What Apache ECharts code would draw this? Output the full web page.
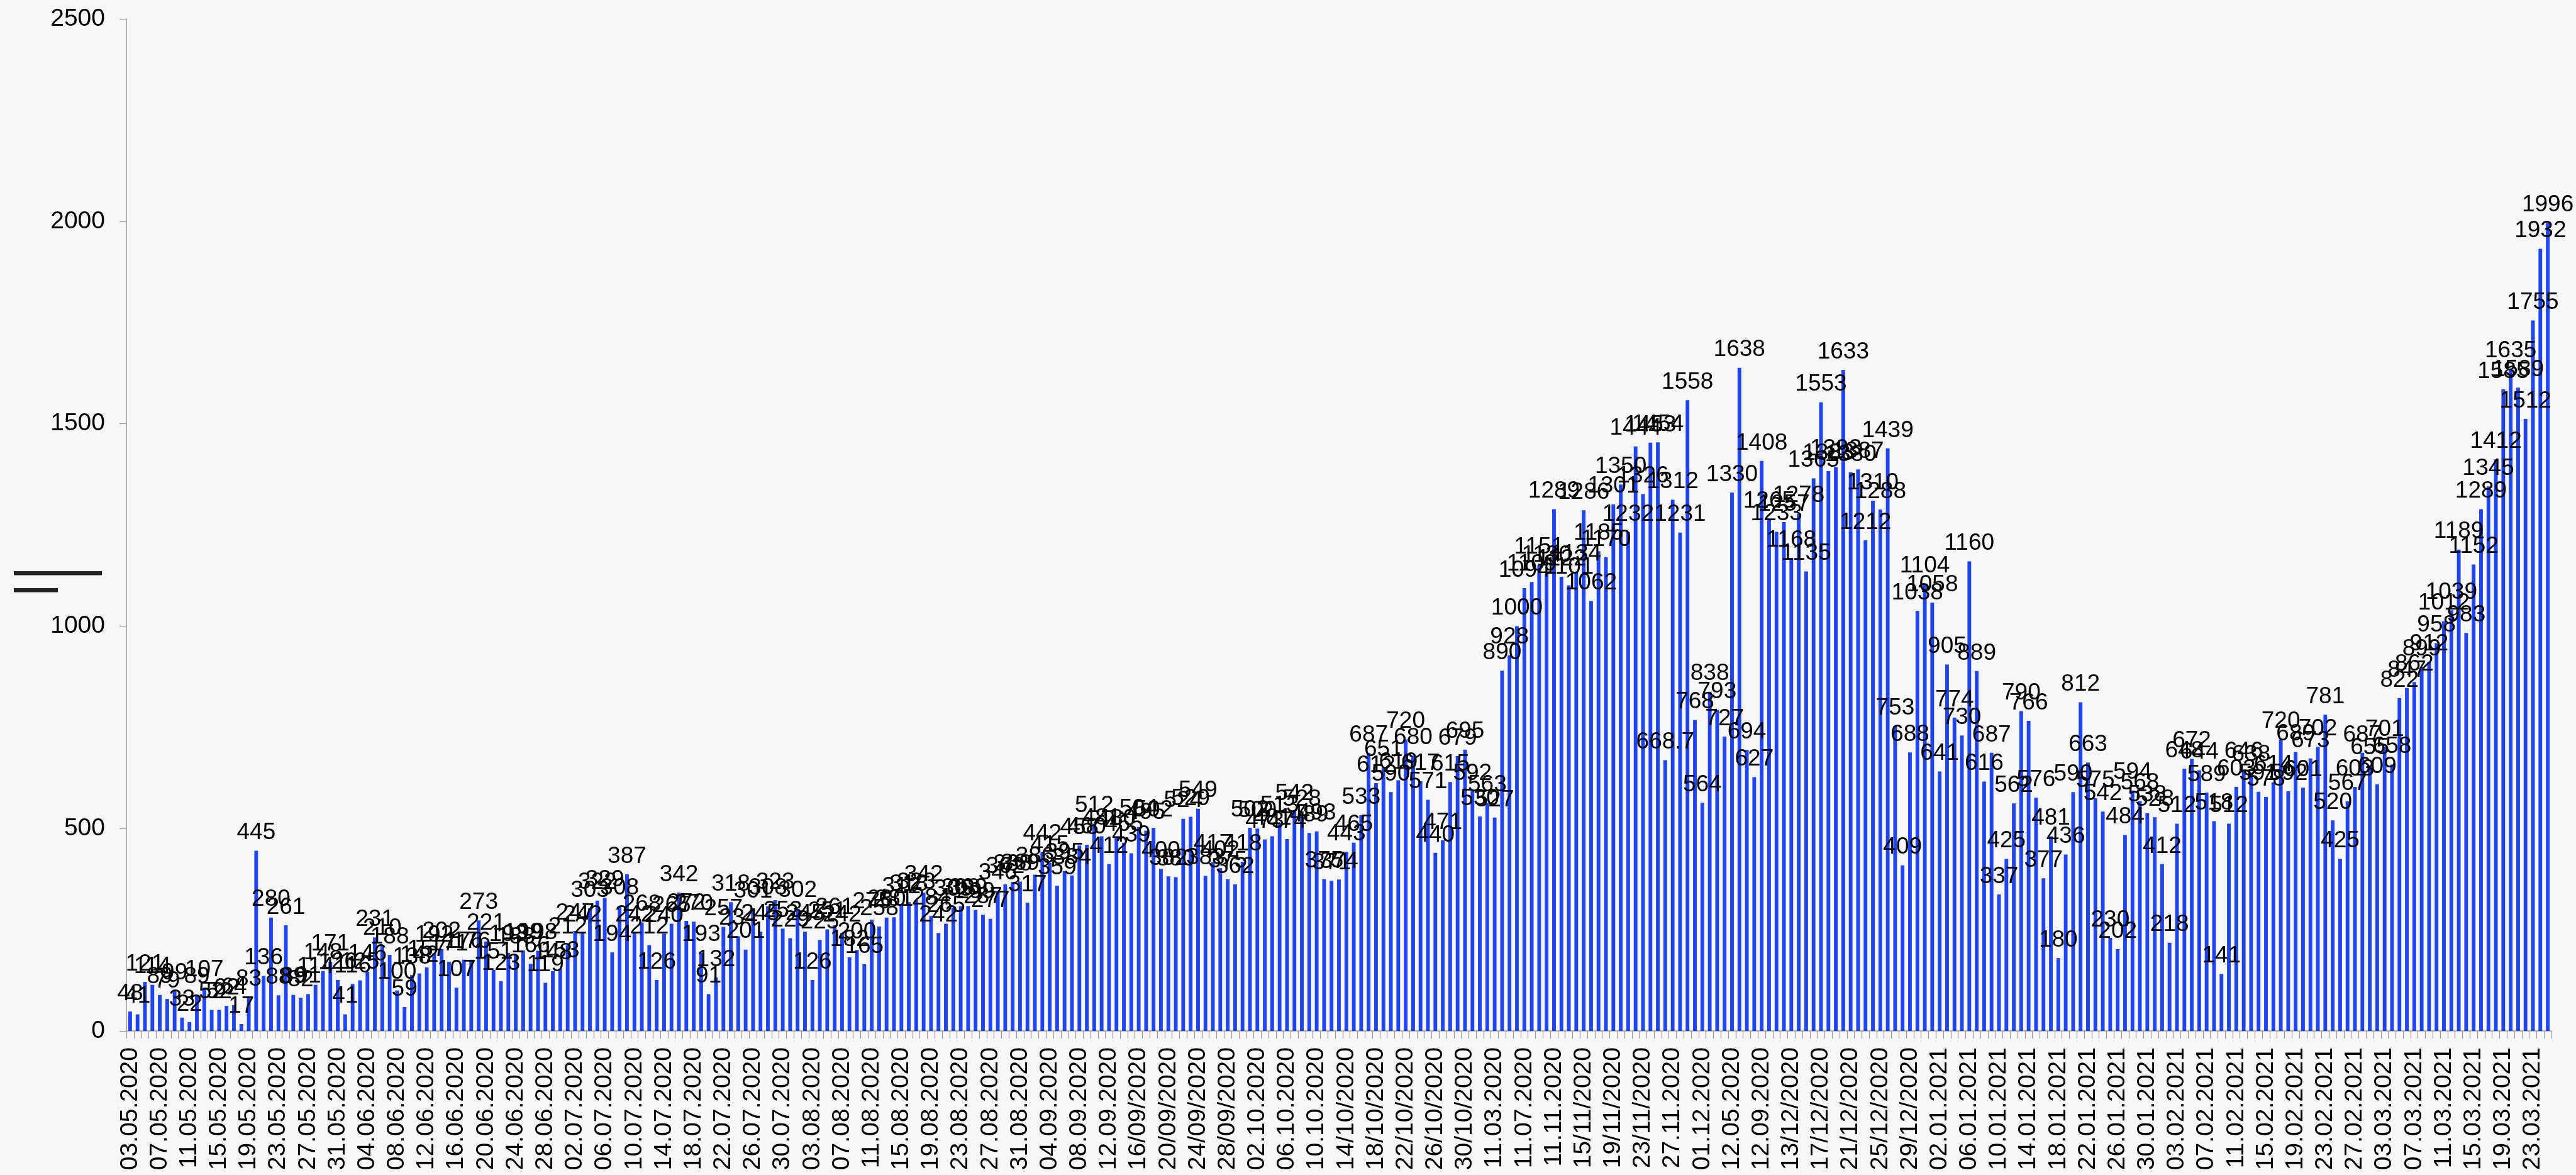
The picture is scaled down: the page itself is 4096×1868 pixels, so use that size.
<!DOCTYPE html>
<html>
<head>
<meta charset="utf-8">
<title>Daily values</title>
<script src="https://cdn.jsdelivr.net/npm/echarts@6/dist/echarts.min.js"></script>
<style>
  html, body { margin: 0; padding: 0; background: #f7f7f7; }
  #chart { width: 4096px; height: 1868px; }
</style>
</head>
<body>
<div id="chart"></div>
<script>
// tick labels, one every 4 days (as written in the source sheet)
var tickLabels = ['03.05.2020','07.05.2020','11.05.2020','15.05.2020','19.05.2020','23.05.2020','27.05.2020','31.05.2020','04.06.2020','08.06.2020',
  '12.06.2020','16.06.2020','20.06.2020','24.06.2020','28.06.2020','02.07.2020','06.07.2020','10.07.2020','14.07.2020','18.07.2020',
  '22.07.2020','26.07.2020','30.07.2020','03.08.2020','07.08.2020','11.08.2020','15.08.2020','19.08.2020','23.08.2020','27.08.2020',
  '31.08.2020','04.09.2020','08.09.2020','12.09.2020','16/09/2020','20/09/2020','24/09/2020','28/09/2020','02.10.2020','06.10.2020',
  '10.10.2020','14/10/2020','18/10/2020','22/10/2020','26/10/2020','30/10/2020','11.03.2020','11.07.2020','11.11.2020','15/11/2020',
  '19/11/2020','23/11/2020','27.11.2020','01.12.2020','12.05.2020','12.09.2020','13/12/2020','17/12/2020','21/12/2020','25/12/2020',
  '29/12/2020','02.01.2021','06.01.2021','10.01.2021','14.01.2021','18.01.2021','22.01.2021','26.01.2021','30.01.2021','03.02.2021',
  '07.02.2021','11.02.2021','15.02.2021','19.02.2021','23.02.2021','27.02.2021','03.03.2021','07.03.2021','11.03.2021','15.03.2021',
  '19.03.2021','23.03.2021'];

// daily values, 03.05.2020 .. 25.03.2021
var valuesMayJun = [48, 41, 121, 114, 89, 79, 99, 33, 22, 89, 107, 52, 52, 62, 64, 17, 83, 445, 136, 280,
  88, 261, 89, 82, 91, 114, 148, 171, 126, 41, 116, 125, 146, 231, 210, 188, 100, 59, 138, 142,
  157, 192, 202, 171, 107, 176, 176, 273];
var valuesJunAug = [221, 151, 123, 193, 188, 199, 166, 198, 119, 148, 153, 212, 247, 242, 303, 322, 329, 194, 308, 387,
  242, 268, 212, 126, 240, 265, 342, 272, 270, 193, 91, 132, 257, 318, 234, 201, 301, 245, 308, 323,
  253, 229, 302, 245, 126, 225, 251, 261];
var valuesAugSep = [242, 182, 200, 165, 275, 258, 280, 281, 312, 318, 323, 342, 284, 242, 265, 305, 308, 309, 299, 287,
  277, 346, 362, 368, 369, 317, 386, 442, 415, 359, 395, 384, 458, 460, 512, 481, 412, 480, 465, 439,
  504, 495, 502, 400, 382, 380, 524, 529];
var valuesSepNov = [549, 383, 417, 402, 375, 362, 418, 502, 500, 473, 481, 513, 474, 542, 528, 489, 493, 375, 371, 374,
  443, 465, 533, 687, 612, 651, 590, 619, 720, 680, 617, 571, 440, 471, 615, 679, 695, 592, 530, 563,
  527, 890, 928, 1000, 1094, 1109, 1151, 1130];
var valuesNovDec = [1289, 1122, 1101, 1134, 1286, 1062, 1185, 1170, 1301, 1350, 1232, 1444, 1326, 1453, 1454, 668.7, 1312, 1231, 1558, 768,
  564, 838, 793, 727, 1330, 1638, 694, 627, 1408, 1265, 1233, 1257, 1168, 1278, 1135, 1365, 1553, 1383, 1393, 1633,
  1380, 1387, 1212, 1310, 1288, 1439, 753, 409, 688];
var valuesDecFeb = [1038, 1104, 1058, 641, 905, 774, 730, 1160, 889, 616, 687, 337, 425, 562, 790, 766, 576, 377, 481, 180,
  436, 590, 812, 663, 575, 542, 230, 202, 484, 594, 568, 538, 528, 412, 218, 512, 648, 672, 644, 589,
  518, 141, 512, 603];
var valuesFebMar = [646, 638, 591, 578, 614, 720, 592, 689, 601, 673, 702, 781, 520, 425, 567, 603, 687, 655, 609, 701,
  658, 822, 847, 862, 899, 912, 958, 1012, 1039, 1189, 983, 1152, 1289, 1345, 1412, 1585, 1635, 1589, 1512, 1755,
  1932, 1996];

var values = [].concat(valuesMayJun, valuesJunAug, valuesAugSep, valuesSepNov, valuesNovDec, valuesDecFeb, valuesFebMar);
var categories = values.map(function (v, i) { return String(i); });

var font = "'Liberation Sans', Arial, sans-serif";
var chart = echarts.init(document.getElementById('chart'));
chart.setOption({
  backgroundColor: '#f7f7f7',
  animation: false,
  grid: { left: 201, right: 39, top: 30, bottom: 229 },
  xAxis: {
    type: 'category',
    data: categories,
    axisLine: { show: true, lineStyle: { color: '#9a9a9a', width: 1.5 } },
    axisTick: { show: true, interval: 0, length: 12, lineStyle: { color: '#9a9a9a', width: 1.2 } },
    axisLabel: {
      interval: 3,
      rotate: 90,
      margin: 26,
      color: '#000',
      fontFamily: font,
      fontSize: 39,
      formatter: function (v, idx) { return tickLabels[idx / 4] || ''; }
    }
  },
  yAxis: {
    type: 'value',
    min: 0,
    max: 2500,
    interval: 500,
    splitLine: { show: false },
    axisLine: { show: true, lineStyle: { color: '#9a9a9a', width: 1.5 } },
    axisTick: { show: true, length: 11, lineStyle: { color: '#9a9a9a', width: 1.2 } },
    axisLabel: {
      color: '#000',
      fontFamily: font,
      fontSize: 39,
      margin: 34,
      formatter: function (v) { return String(v); }
    }
  },
  // the two short dark strokes at the left edge
  graphic: [
    { type: 'rect', left: 22, top: 908, shape: { width: 140, height: 6.6 }, style: { fill: '#222' } },
    { type: 'rect', left: 22, top: 935, shape: { width: 70, height: 6.6 }, style: { fill: '#222' } }
  ],
  series: [{
    type: 'bar',
    data: values,
    barWidth: '50%',
    itemStyle: { color: '#1f45f2' },
    label: {
      show: true,
      position: 'top',
      distance: 10,
      color: '#000',
      fontFamily: font,
      fontSize: 37
    }
  }]
});
</script>
</body>
</html>
